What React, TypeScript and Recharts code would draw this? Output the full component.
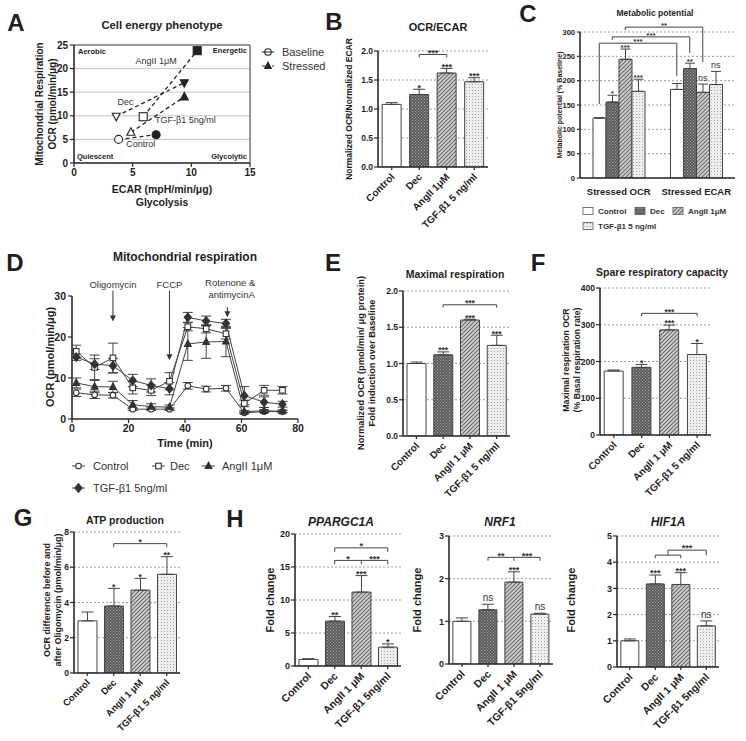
import React from 'react';
import {
  BarChart, Bar, XAxis, YAxis, CartesianGrid, ErrorBar, Cell, ReferenceLine, ReferenceDot,
  ScatterChart, Scatter, LineChart, Line,
} from 'recharts';

const FONT = '"Liberation Sans", Arial, Helvetica, sans-serif';
const INK = '#1e1e1e';
const AXIS = '#2a2a2a';
const GRID = '#9c9c9c';
const BAR_STROKE = '#444';
const BAR_FILLS = ['#ffffff', 'url(#pDec)', 'url(#pAng)', 'url(#pTgf)'];

// ---------------- Panel A : cell energy phenotype ----------------
const aNames = ['Control', 'Dec', 'AngII 1μM', 'TGF-β1 5ng/ml'];
const aBaseECAR = [3.8, 3.6, 5.9, 4.85];
const aBaseOCR = [5.0, 9.9, 9.8, 6.5];
const aStressECAR = [7.0, 9.4, 10.5, 9.4];
const aStressOCR = [6.0, 17.0, 23.8, 14.0];
const aNameECAR = [5.7, 4.4, 7.0, 9.5];
const aNameOCR = [4.0, 12.9, 21.6, 9.1];
const aMarkers = ['circle', 'triangleDown', 'square', 'triangle'];
const aXTicks = [0, 5, 10, 15];
const aYTicks = [0, 5, 10, 15, 20, 25];

// ---------------- Panel B : OCR/ECAR ----------------
const bLabels = ['Control', 'Dec', 'AngII 1μM', 'TGF-β1 5 ng/ml'];
const bValues = [1.08, 1.25, 1.62, 1.47];
const bErr = [0.03, 0.09, 0.08, 0.07];
const bSig = ['', '*', '***', '***'];
const bTicks = [0, 0.5, 1, 1.5, 2];
const bBrackets = [{ x1: 1, x2: 2, y: 1.94, drop: 0.05, labels: [{ text: '***' }] }];

// ---------------- Panel C : metabolic potential ----------------
const cGroups = ['Stressed OCR', 'Stressed ECAR'];
const cSeries = ['Control', 'Dec', 'AngII 1μM', 'TGF-β1 5 ng/ml'];
const cOCR = [123, 156, 244, 178];
const cOCRErr = [1, 14, 21, 25];
const cOCRSig = ['', '*', '***', '***'];
const cECAR = [182, 225, 176, 192];
const cECARErr = [12, 11, 17, 27];
const cECARSig = ['', '**', 'ns', 'ns'];
const cTicks = [0, 50, 100, 150, 200, 250, 300];
const cBrackets = [
  { series: 0, y: 277, leftTo: 152, rightTo: 210, text: '***' },
  { series: 1, y: 290, leftTo: 284, rightTo: 257, text: '***' },
  { series: 2, y: 310, leftTo: 304, rightTo: 238, text: '**' },
];

// ---------------- Panel D : mitochondrial respiration ----------------
const dTime = [1.5, 8, 14.5, 21.5, 28, 34.5, 41, 47.5, 54.5, 61, 68, 74.5];
const dControl = [6.4, 5.9, 5.8, 2.4, 2.4, 2.4, 8.1, 7.3, 7.5, 1.5, 1.8, 1.8];
const dControlErr = [0.9, 0.9, 0.7, 0.3, 0.3, 0.3, 0.8, 0.7, 0.7, 0.2, 0.2, 0.2];
const dDec = [16.5, 12.6, 14.9, 7.6, 7.0, 9.2, 22.5, 22.0, 20.8, 3.8, 7.0, 7.0];
const dDecErr = [1.5, 3.0, 3.6, 1.5, 1.3, 2.1, 1.0, 1.0, 1.3, 0.8, 1.2, 0.9];
const dAng = [8.8, 7.9, 7.8, 3.5, 3.0, 2.9, 18.3, 18.8, 18.9, 1.8, 2.0, 1.9];
const dAngErr = [1.2, 1.5, 1.4, 1.0, 0.7, 0.5, 4.0, 4.0, 3.7, 0.3, 0.3, 0.3];
const dTgf = [15.1, 13.4, 13.0, 9.4, 8.2, 7.4, 24.8, 23.9, 23.3, 5.7, 4.1, 3.6];
const dTgfErr = [0.8, 1.3, 1.8, 1.5, 1.6, 1.5, 1.2, 1.2, 1.0, 2.2, 1.3, 0.7];
const dXTicks = [0, 20, 40, 60, 80];
const dYTicks = [0, 10, 20, 30];
const dArrows = [
  { x: 14.5, from: 31.3, to: 23.8 },
  { x: 34.5, from: 31.3, to: 14.3 },
  { x: 55.0, from: 27.3, to: 24.8 },
];
const dNotes = [
  { x: 14.5, y: 32.7, text: 'Oligomycin' },
  { x: 34.5, y: 32.7, text: 'FCCP' },
  { x: 56.0, y: 33.2, text: 'Rotenone &' },
  { x: 56.5, y: 30.3, text: 'antimycinA' },
];

// ---------------- Panel E : maximal respiration ----------------
const eLabels = ['Control', 'Dec', 'AngII 1 μM', 'TGF-β1 5 ng/ml'];
const eValues = [1.0, 1.12, 1.6, 1.25];
const eErr = [0.02, 0.04, 0.01, 0.14];
const eSig = ['', '***', '***', '***'];
const eTicks = [0, 0.5, 1, 1.5, 2];
const eBrackets = [{ x1: 1, x2: 3, y: 1.81, drop: 0.04, labels: [{ text: '***' }] }];

// ---------------- Panel F : spare respiratory capacity ----------------
const fLabels = ['Control', 'Dec', 'AngII 1 μM', 'TGF-β1 5 ng/ml'];
const fValues = [174, 184, 286, 219];
const fErr = [3, 8, 13, 30];
const fSig = ['', '*', '***', '*'];
const fTicks = [0, 100, 200, 300, 400];
const fBrackets = [{ x1: 1, x2: 3, y: 331, drop: 8, labels: [{ text: '***' }] }];

// ---------------- Panel G : ATP production ----------------
const gLabels = ['Control', 'Dec', 'AngII 1 μM', 'TGF-β1 5 ng/ml'];
const gValues = [2.96, 3.8, 4.7, 5.6];
const gErr = [0.5, 1.0, 0.67, 1.0];
const gSig = ['', '*', '*', '**'];
const gTicks = [0, 2, 4, 6, 8];
const gBrackets = [{ x1: 1, x2: 3, y: 7.34, drop: 0.2, labels: [{ text: '*' }] }];

// ---------------- Panel H : gene expression ----------------
const hLabels = ['Control', 'Dec', 'AngII 1 μM', 'TGF-β1 5ng/ml'];
const h1Values = [1.0, 6.8, 11.2, 2.85];
const h1Err = [0.1, 0.7, 2.5, 0.5];
const h1Sig = ['', '**', '***', '*'];
const h1Ticks = [0, 5, 10, 15, 20];
const h1Brackets = [
  { x1: 1, x2: 3, y: 17.9, drop: 0.6, labels: [{ text: '*' }] },
  { x1: 1, x2: 3, y: 16, drop: 0.6, ticks: [2], labels: [{ text: '*', x: 1.5 }, { text: '***', x: 2.5 }] },
];
const h2Values = [1.0, 1.27, 1.92, 1.17];
const h2Err = [0.08, 0.13, 0.24, 0.02];
const h2Sig = ['', 'ns', '***', 'ns'];
const h2Ticks = [0, 1, 2, 3];
const h2Brackets = [
  { x1: 1, x2: 3, y: 2.5, drop: 0.08, ticks: [2], labels: [{ text: '**', x: 1.5 }, { text: '***', x: 2.5 }] },
];
const h3Values = [1.0, 3.17, 3.15, 1.57];
const h3Err = [0.07, 0.34, 0.45, 0.19];
const h3Sig = ['', '***', '***', 'ns'];
const h3Ticks = [0, 1, 2, 3, 4, 5];
const h3Brackets = [
  { x1: 1, x2: 2, y: 4.27, drop: 0.12 },
  { x1: 1.5, x2: 3, y: 4.46, drop: 0.19, labels: [{ text: '***', x: 2.25 }] },
];

// =====================================================================

const Patterns = () => (
  <svg width={0} height={0} style={{ position: 'absolute', left: 0, top: 0 }}>
    <defs>
      <pattern id="pDec" width={3} height={3} patternUnits="userSpaceOnUse">
        <rect width={3} height={3} fill="#5a5a5a" />
        <rect x={0} y={0} width={1} height={1} fill="#a8a8a8" />
        <rect x={1.5} y={1.5} width={1} height={1} fill="#a8a8a8" />
      </pattern>
      <pattern id="pAng" width={4} height={4} patternUnits="userSpaceOnUse">
        <rect width={4} height={4} fill="#d2d2d2" />
        <path d="M-1,1 L1,-1 M0,4 L4,0 M3,5 L5,3" stroke="#6a6a6a" strokeWidth={1.2} />
      </pattern>
      <pattern id="pTgf" width={3} height={3} patternUnits="userSpaceOnUse">
        <rect width={3} height={3} fill="#eeeeee" />
        <rect x={0} y={0} width={1} height={1} fill="#a6a6a6" />
      </pattern>
    </defs>
  </svg>
);

type TProps = {
  x: number; y: number; size: number; bold?: boolean; italic?: boolean; rot?: number;
  anchor?: 'start' | 'middle' | 'end'; children: React.ReactNode; color?: string;
};
const T = ({ x, y, size, bold = true, italic = false, rot = 0, anchor = 'middle', children, color = INK }: TProps) => {
  const tx = anchor === 'middle' ? '-50%' : anchor === 'end' ? '-100%' : '0';
  return (
    <div
      style={{
        position: 'absolute', left: x, top: y, transform: `translate(${tx},-50%) rotate(${rot}deg)`,
        fontSize: size, fontWeight: bold ? 700 : 400, fontStyle: italic ? 'italic' : 'normal',
        whiteSpace: 'nowrap', lineHeight: 1, color, fontFamily: FONT,
      }}
    >
      {children}
    </div>
  );
};

const Marker = ({ kind, cx, cy, filled, s = 4, stroke = '#222' }: any) => {
  const fill = filled ? stroke : '#fff';
  const common = { fill, stroke, strokeWidth: 1.1 };
  if (kind === 'circle') return <circle cx={cx} cy={cy} r={s} {...common} />;
  if (kind === 'square') return <rect x={cx - s} y={cy - s} width={2 * s} height={2 * s} {...common} />;
  if (kind === 'triangle')
    return <polygon points={`${cx},${cy - s * 1.15} ${cx + s},${cy + s * 0.75} ${cx - s},${cy + s * 0.75}`} {...common} />;
  if (kind === 'triangleDown')
    return <polygon points={`${cx},${cy + s * 1.15} ${cx + s},${cy - s * 0.75} ${cx - s},${cy - s * 0.75}`} {...common} />;
  return <polygon points={`${cx},${cy - s * 1.2} ${cx + s},${cy} ${cx},${cy + s * 1.2} ${cx - s},${cy}`} {...common} />;
};

const SigText = ({ cx, cy, text, size }: any) => {
  const ns = text === 'ns';
  return (
    <text
      x={cx}
      y={ns ? cy - 3 : cy + size * 0.15}
      textAnchor="middle"
      fontSize={ns ? size + 1 : size}
      fontWeight={ns ? 400 : 700}
      fill="#333"
      fontFamily={FONT}
    >
      {text}
    </text>
  );
};

const AngledTick = ({ x, y, payload, size }: any) => {
  const ax = x + size * 0.35;
  const ay = y + size * 0.55;
  return (
    <text
      x={ax}
      y={ay}
      transform={`rotate(-45 ${ax} ${ay})`}
      textAnchor="end"
      fontSize={size}
      fontWeight={700}
      fontFamily={FONT}
      fill={INK}
    >
      {payload.value}
    </text>
  );
};

type Frame = { x: number; y: number; w: number; h: number; padL: number; padT: number; padR: number; padB: number };
const frameStyle = (f: Frame): React.CSSProperties => ({ position: 'absolute', left: f.x - f.padL, top: f.y - f.padT });
const frameSize = (f: Frame) => ({
  width: f.padL + f.w + f.padR,
  height: f.padT + f.h + f.padB,
  margin: { top: f.padT, right: f.padR, left: 0, bottom: 0 },
});

const axisLine = { stroke: AXIS, strokeWidth: 1.6 };
const tickLine = { stroke: AXIS, strokeWidth: 1.2 };
const tickStyle = (size: number) => ({ fontSize: size, fontWeight: 700, fill: INK, fontFamily: FONT });

type Bracket = {
  x1: number; x2: number; y: number; drop: number; ticks?: number[];
  labels?: { text: string; x?: number }[]; leftTo?: number; rightTo?: number;
};

function bracketEls(b: Bracket, key: string, size: number, xOff: number) {
  const x1 = b.x1 + xOff;
  const x2 = b.x2 + xOff;
  const lt = b.leftTo ?? b.y - b.drop;
  const rt = b.rightTo ?? b.y - b.drop;
  const segs: number[][] = [
    [x1, lt, x1, b.y],
    [x1, b.y, x2, b.y],
    [x2, b.y, x2, rt],
    ...(b.ticks || []).map((t) => [t + xOff, b.y, t + xOff, b.y - b.drop]),
  ];
  const els: any[] = segs.map((s, i) => (
    <ReferenceLine
      key={`${key}l${i}`}
      xAxisId="n"
      segment={[{ x: s[0], y: s[1] }, { x: s[2], y: s[3] }]}
      stroke="#444"
      strokeWidth={1}
      ifOverflow="visible"
    />
  ));
  (b.labels || []).forEach((l, i) => {
    const lx = (l.x ?? (b.x1 + b.x2) / 2) + xOff;
    els.push(
      <ReferenceDot
        key={`${key}t${i}`}
        xAxisId="n"
        x={lx}
        y={b.y}
        r={0}
        ifOverflow="visible"
        shape={(p: any) => <SigText cx={p.cx} cy={p.cy} text={l.text} size={size} />}
      />,
    );
  });
  return els;
}

type BarPanelProps = {
  frame: Frame; labels: string[]; values: number[]; errs: number[]; sig: string[]; brackets: Bracket[];
  domain: [number, number]; ticks: number[]; fmt?: (v: number) => string;
  tickSize: number; catSize: number; sigSize: number; idp: string;
};

function BarPanel({ frame, labels, values, errs, sig, brackets, domain, ticks, fmt, tickSize, catSize, sigSize, idp }: BarPanelProps) {
  const data = labels.map((l, i) => ({ name: l, value: values[i], err: [0, errs[i]], nx: i + 0.5 }));
  const n = labels.length;
  return (
    <div style={frameStyle(frame)}>
      <BarChart {...frameSize(frame)} data={data} barCategoryGap="15%">
        <CartesianGrid vertical={false} stroke={GRID} strokeDasharray="2 2" />
        <XAxis
          dataKey="name"
          height={frame.padB}
          interval={0}
          tick={(p: any) => <AngledTick {...p} size={catSize} />}
          axisLine={axisLine}
          tickLine={tickLine}
          tickSize={3}
        />
        <XAxis xAxisId="n" dataKey="nx" type="number" domain={[0, n]} hide allowDataOverflow />
        <YAxis
          width={frame.padL}
          domain={domain}
          ticks={ticks}
          interval={0}
          tickFormatter={fmt}
          tick={tickStyle(tickSize)}
          axisLine={axisLine}
          tickLine={tickLine}
          tickSize={4}
          tickMargin={1}
          allowDataOverflow
        />
        <Bar dataKey="value" isAnimationActive={false} stroke={BAR_STROKE} strokeWidth={1}>
          {data.map((d, i) => (
            <Cell key={`${idp}c${i}`} fill={BAR_FILLS[i]} />
          ))}
          <ErrorBar dataKey="err" width={6} stroke="#444" strokeWidth={1} direction="y" />
        </Bar>
        {sig.map((s, i) =>
          s ? (
            <ReferenceDot
              key={`${idp}s${i}`}
              xAxisId="n"
              x={i + 0.5}
              y={values[i] + errs[i]}
              r={0}
              ifOverflow="visible"
              shape={(p: any) => <SigText cx={p.cx} cy={p.cy} text={s} size={sigSize} />}
            />
          ) : null,
        )}
        {brackets.flatMap((b, bi) => bracketEls(b, `${idp}b${bi}`, sigSize, 0.5))}
      </BarChart>
    </div>
  );
}

// ---------------- Panel A ----------------
function PanelA() {
  const frame: Frame = { x: 74, y: 45, w: 176, h: 118, padL: 30, padT: 10, padR: 10, padB: 22 };
  return (
    <div style={frameStyle(frame)}>
      <ScatterChart {...frameSize(frame)}>
        <CartesianGrid vertical={false} stroke="#c4c4c4" />
        <XAxis
          type="number"
          dataKey="x"
          domain={[0, 15]}
          ticks={aXTicks}
          interval={0}
          height={frame.padB}
          tick={tickStyle(10)}
          axisLine={axisLine}
          tickLine={tickLine}
          tickSize={4}
        />
        <YAxis
          type="number"
          dataKey="y"
          domain={[0, 25]}
          ticks={aYTicks}
          interval={0}
          width={frame.padL}
          tick={tickStyle(10)}
          axisLine={axisLine}
          tickLine={tickLine}
          tickSize={4}
        />
        <ReferenceLine y={25} stroke="#555" strokeWidth={1.2} ifOverflow="visible" />
        <ReferenceLine x={15} stroke="#555" strokeWidth={1.2} ifOverflow="visible" />
        {aNames.map((nm, i) => (
          <Scatter
            key={nm}
            data={[
              { x: aBaseECAR[i], y: aBaseOCR[i], filled: false },
              { x: aStressECAR[i], y: aStressOCR[i], filled: true },
            ]}
            line={{ stroke: '#222', strokeWidth: 1.3, strokeDasharray: '4 3' }}
            lineType="joint"
            isAnimationActive={false}
            shape={(p: any) => (
              <Marker kind={aMarkers[i]} cx={p.cx} cy={p.cy} filled={p.payload && p.payload.filled} s={4} />
            )}
          />
        ))}
        <Scatter
          data={aNames.map((nm, i) => ({ x: aNameECAR[i], y: aNameOCR[i], text: nm }))}
          isAnimationActive={false}
          shape={(p: any) => (
            <text x={p.cx} y={p.cy} textAnchor="middle" dominantBaseline="central" fontSize={9} fill="#333" fontFamily={FONT}>
              {p.payload && p.payload.text}
            </text>
          )}
        />
      </ScatterChart>
    </div>
  );
}

function LegendA() {
  return (
    <svg style={{ position: 'absolute', left: 255, top: 42 }} width={90} height={34}>
      <line x1={7} y1={10} x2={19} y2={10} stroke="#222" strokeWidth={1.2} strokeDasharray="3 2" />
      <Marker kind="circle" cx={13} cy={10} filled={false} s={3.3} />
      <line x1={10} y1={10} x2={16} y2={10} stroke="#222" strokeWidth={1} />
      <text x={27} y={10} dominantBaseline="central" fontSize={11} fill="#333" fontFamily={FONT}>Baseline</text>
      <line x1={7} y1={24} x2={19} y2={24} stroke="#222" strokeWidth={1.2} strokeDasharray="3 2" />
      <Marker kind="triangle" cx={13} cy={24} filled s={3.3} />
      <text x={27} y={24} dominantBaseline="central" fontSize={11} fill="#333" fontFamily={FONT}>Stressed</text>
    </svg>
  );
}

// ---------------- Panel C ----------------
function PanelC() {
  const frame: Frame = { x: 580, y: 32, w: 155, h: 146, padL: 25, padT: 20, padR: 8, padB: 20 };
  const barSize = 13;
  const bandPx = frame.w / cGroups.length;
  const barX = (g: number, s: number) => g + 0.5 + ((s - 1.5) * barSize) / bandPx;
  const vals = [cOCR, cECAR];
  const errs = [cOCRErr, cECARErr];
  const sigs = [cOCRSig, cECARSig];
  const data = cGroups.map((g, gi) => {
    const row: any = { name: g, nx: gi + 0.5 };
    cSeries.forEach((_, si) => {
      row[`v${si}`] = vals[gi][si];
      row[`e${si}`] = [0, errs[gi][si]];
    });
    return row;
  });
  return (
    <div style={frameStyle(frame)}>
      <BarChart {...frameSize(frame)} data={data} barSize={barSize} barGap={0}>
        <CartesianGrid vertical={false} stroke={GRID} strokeDasharray="2 2" />
        <XAxis dataKey="name" height={frame.padB} tick={tickStyle(9.5)} axisLine={axisLine} tickLine={false} tickMargin={4} />
        <XAxis xAxisId="n" dataKey="nx" type="number" domain={[0, 2]} hide allowDataOverflow />
        <YAxis
          width={frame.padL}
          domain={[0, 300]}
          ticks={cTicks}
          interval={0}
          tick={tickStyle(7.5)}
          axisLine={axisLine}
          tickLine={tickLine}
          tickSize={3}
          allowDataOverflow
        />
        {cSeries.map((s, si) => (
          <Bar key={s} dataKey={`v${si}`} fill={BAR_FILLS[si]} stroke={BAR_STROKE} strokeWidth={1} isAnimationActive={false}>
            <ErrorBar dataKey={`e${si}`} width={5} stroke="#444" strokeWidth={1} direction="y" />
          </Bar>
        ))}
        {cGroups.flatMap((g, gi) =>
          cSeries.map((s, si) =>
            sigs[gi][si] ? (
              <ReferenceDot
                key={`cs${gi}${si}`}
                xAxisId="n"
                x={barX(gi, si)}
                y={vals[gi][si] + errs[gi][si]}
                r={0}
                ifOverflow="visible"
                shape={(p: any) => <SigText cx={p.cx} cy={p.cy} text={sigs[gi][si]} size={8} />}
              />
            ) : null,
          ),
        )}
        {cBrackets.flatMap((b, bi) =>
          bracketEls(
            {
              x1: barX(0, b.series), x2: barX(1, b.series), y: b.y, drop: 0,
              leftTo: b.leftTo, rightTo: b.rightTo, labels: [{ text: b.text }],
            },
            `cb${bi}`,
            8,
            0,
          ),
        )}
      </BarChart>
    </div>
  );
}

function LegendC() {
  const box = (x: number, y: number, f: string) => (
    <rect x={x} y={y - 3.5} width={10} height={7} fill={f} stroke="#555" strokeWidth={0.8} />
  );
  const txt = (x: number, y: number, t: string) => (
    <text x={x} y={y} dominantBaseline="central" fontSize={8} fontWeight={700} fill="#333" fontFamily={FONT}>{t}</text>
  );
  return (
    <svg style={{ position: 'absolute', left: 575, top: 202 }} width={170} height={34}>
      {box(8, 9, BAR_FILLS[0])}
      {txt(23, 9, cSeries[0])}
      {box(60, 9, BAR_FILLS[1])}
      {txt(75, 9, cSeries[1])}
      {box(98, 9, BAR_FILLS[2])}
      {txt(113, 9, cSeries[2])}
      {box(8, 24, BAR_FILLS[3])}
      {txt(23, 24, cSeries[3])}
    </svg>
  );
}

// ---------------- Panel D ----------------
const dSeries = [
  { key: 'control', err: 'controlErr', kind: 'circle', filled: false, s: 2.8, name: 'Control' },
  { key: 'dec', err: 'decErr', kind: 'square', filled: false, s: 2.8, name: 'Dec' },
  { key: 'ang', err: 'angErr', kind: 'triangle', filled: true, s: 3.4, name: 'AngII 1μM' },
  { key: 'tgf', err: 'tgfErr', kind: 'diamond', filled: true, s: 3.6, name: 'TGF-β1 5ng/ml' },
];

function PanelD() {
  const frame: Frame = { x: 72, y: 296, w: 226, h: 123, padL: 30, padT: 45, padR: 12, padB: 20 };
  const data = dTime.map((t, i) => ({
    t,
    control: dControl[i], controlErr: dControlErr[i],
    dec: dDec[i], decErr: dDecErr[i],
    ang: dAng[i], angErr: dAngErr[i],
    tgf: dTgf[i], tgfErr: dTgfErr[i],
  }));
  return (
    <div style={frameStyle(frame)}>
      <LineChart {...frameSize(frame)} data={data}>
        <XAxis
          type="number"
          dataKey="t"
          domain={[0, 80]}
          ticks={dXTicks}
          interval={0}
          height={frame.padB}
          tick={tickStyle(10.5)}
          axisLine={axisLine}
          tickLine={tickLine}
          tickSize={4}
        />
        <YAxis
          domain={[0, 30]}
          ticks={dYTicks}
          interval={0}
          width={frame.padL}
          tick={tickStyle(10.5)}
          axisLine={axisLine}
          tickLine={tickLine}
          tickSize={4}
          allowDataOverflow
        />
        {dSeries.map((s) => (
          <Line
            key={s.key}
            dataKey={s.key}
            stroke="#444"
            strokeWidth={1}
            isAnimationActive={false}
            activeDot={false}
            dot={(p: any) => (
              <Marker key={`${s.key}${p.index}`} kind={s.kind} cx={p.cx} cy={p.cy} filled={s.filled} s={s.s} stroke="#333" />
            )}
          >
            <ErrorBar dataKey={s.err} width={5} stroke="#444" strokeWidth={1} direction="y" />
          </Line>
        ))}
        {dArrows.map((a, i) => (
          <ReferenceLine
            key={`arr${i}`}
            segment={[{ x: a.x, y: a.from }, { x: a.x, y: a.to }]}
            ifOverflow="visible"
            stroke="#333"
            shape={(p: any) => (
              <g>
                <line x1={p.x1} y1={p.y1} x2={p.x2} y2={p.y2 - 4} stroke="#333" strokeWidth={1} />
                <polygon points={`${p.x2 - 3},${p.y2 - 6} ${p.x2 + 3},${p.y2 - 6} ${p.x2},${p.y2}`} fill="#333" />
              </g>
            )}
          />
        ))}
        {dNotes.map((nt, i) => (
          <ReferenceDot
            key={`note${i}`}
            x={nt.x}
            y={nt.y}
            r={0}
            ifOverflow="visible"
            shape={(p: any) => (
              <text x={p.cx} y={p.cy} textAnchor="middle" dominantBaseline="central" fontSize={9.5} fill="#333" fontFamily={FONT}>
                {nt.text}
              </text>
            )}
          />
        ))}
      </LineChart>
    </div>
  );
}

function LegendD() {
  const pos = [
    { x: 72, y: 16, tx: 93 },
    { x: 152, y: 16, tx: 170 },
    { x: 202, y: 16, tx: 222 },
    { x: 72, y: 38, tx: 93 },
  ];
  return (
    <svg style={{ position: 'absolute', left: 0, top: 450 }} width={300} height={50}>
      {dSeries.map((s, i) => (
        <g key={s.key}>
          <line x1={pos[i].x} y1={pos[i].y} x2={pos[i].x + 13} y2={pos[i].y} stroke="#444" strokeWidth={1} />
          <Marker kind={s.kind} cx={pos[i].x + 6.5} cy={pos[i].y} filled={s.filled} s={s.s} stroke="#333" />
          <text x={pos[i].tx} y={pos[i].y} dominantBaseline="central" fontSize={11} fill="#333" fontFamily={FONT}>
            {s.name}
          </text>
        </g>
      ))}
    </svg>
  );
}

const f1 = (v: number) => v.toFixed(1);

export default function App() {
  return (
    <div
      style={{
        position: 'absolute', left: 0, top: 0, width: 746, height: 741, background: '#fff',
        fontFamily: FONT, color: INK, overflow: 'hidden',
      }}
    >
      <style>{'.recharts-surface{overflow:visible}'}</style>
      <Patterns />

      {/* panel letters */}
      <T x={16} y={23} size={24}>A</T>
      <T x={334} y={22} size={24}>B</T>
      <T x={528} y={14} size={24}>C</T>
      <T x={15} y={263} size={24}>D</T>
      <T x={333} y={263} size={24}>E</T>
      <T x={538} y={263} size={24}>F</T>
      <T x={23} y={518} size={24}>G</T>
      <T x={235} y={519} size={24}>H</T>

      {/* ---- A ---- */}
      <T x={162} y={26} size={11.3}>Cell energy phenotype</T>
      <PanelA />
      <LegendA />
      <T x={40} y={104} size={10} rot={-90}>Mitochondrial Respiration</T>
      <T x={53} y={104} size={10} rot={-90}>OCR (pmol/min/μg)</T>
      <T x={162} y={189} size={10.5}>ECAR (mpH/min/μg)</T>
      <T x={162} y={202} size={10.5}>Glycolysis</T>
      <T x={78} y={52} size={7.5} anchor="start">Aerobic</T>
      <T x={247} y={51} size={7.5} anchor="end">Energetic</T>
      <T x={77} y={157} size={7.5} anchor="start">Quiescent</T>
      <T x={247} y={157} size={7.5} anchor="end">Glycolytic</T>

      {/* ---- B ---- */}
      <T x={438} y={27} size={11}>OCR/ECAR</T>
      <T x={349} y={109} size={8.5} rot={-90}>Normalized OCR/Normalized ECAR</T>
      <BarPanel
        idp="B"
        frame={{ x: 378, y: 51, w: 110, h: 116, padL: 26, padT: 12, padR: 8, padB: 70 }}
        labels={bLabels} values={bValues} errs={bErr} sig={bSig} brackets={bBrackets}
        domain={[0, 2]} ticks={bTicks} fmt={f1} tickSize={8.5} catSize={10} sigSize={9}
      />

      {/* ---- C ---- */}
      <T x={655} y={13} size={8.5}>Metabolic potential</T>
      <T x={559} y={105} size={7} rot={-90}>Metabolic potential (% Baseline)</T>
      <PanelC />
      <LegendC />

      {/* ---- D ---- */}
      <T x={185} y={257} size={12}>Mitochondrial respiration</T>
      <PanelD />
      <T x={50} y={357} size={11} rot={-90}>OCR (pmol/min/μg)</T>
      <T x={185} y={443} size={11}>Time (min)</T>
      <LegendD />

      {/* ---- E ---- */}
      <T x={455} y={274} size={10.5}>Maximal respiration</T>
      <T x={362} y={363} size={9.3} rot={-90}>Normalized OCR (pmol/min/ μg protein)</T>
      <T x={373} y={363} size={9.3} rot={-90}>Fold induction over Baseline</T>
      <BarPanel
        idp="E"
        frame={{ x: 403, y: 291, w: 107, h: 145, padL: 26, padT: 12, padR: 8, padB: 70 }}
        labels={eLabels} values={eValues} errs={eErr} sig={eSig} brackets={eBrackets}
        domain={[0, 2]} ticks={eTicks} fmt={f1} tickSize={8.5} catSize={10} sigSize={8.5}
      />

      {/* ---- F ---- */}
      <T x={662} y={272} size={10.5}>Spare respiratory capacity</T>
      <T x={566} y={360} size={8.7} rot={-90}>Maximal respiration OCR</T>
      <T x={577} y={360} size={8.7} rot={-90}>(% Basal respiration rate)</T>
      <BarPanel
        idp="F"
        frame={{ x: 600, y: 288, w: 111, h: 147, padL: 24, padT: 12, padR: 8, padB: 70 }}
        labels={fLabels} values={fValues} errs={fErr} sig={fSig} brackets={fBrackets}
        domain={[0, 400]} ticks={fTicks} tickSize={8.5} catSize={10} sigSize={8.5}
      />

      {/* ---- G ---- */}
      <T x={125} y={520} size={10.5}>ATP production</T>
      <T x={47} y={600} size={9} rot={-90}>OCR difference before and</T>
      <T x={58} y={600} size={9} rot={-90}>after Oligomycin (pmol/min/μg)</T>
      <BarPanel
        idp="G"
        frame={{ x: 74, y: 532, w: 106, h: 141, padL: 12, padT: 12, padR: 8, padB: 68 }}
        labels={gLabels} values={gValues} errs={gErr} sig={gSig} brackets={gBrackets}
        domain={[0, 8]} ticks={gTicks} tickSize={8.5} catSize={9.5} sigSize={8.5}
      />

      {/* ---- H ---- */}
      <T x={341} y={522} size={12} italic>PPARGC1A</T>
      <T x={270} y={600} size={11} rot={-90}>Fold change</T>
      <BarPanel
        idp="H1"
        frame={{ x: 295, y: 534, w: 106, h: 132, padL: 22, padT: 12, padR: 8, padB: 75 }}
        labels={hLabels} values={h1Values} errs={h1Err} sig={h1Sig} brackets={h1Brackets}
        domain={[0, 20]} ticks={h1Ticks} tickSize={9} catSize={10.5} sigSize={9}
      />
      <T x={500} y={522} size={12} italic>NRF1</T>
      <T x={417} y={600} size={11} rot={-90}>Fold change</T>
      <BarPanel
        idp="H2"
        frame={{ x: 449, y: 536, w: 104, h: 128, padL: 22, padT: 12, padR: 8, padB: 75 }}
        labels={hLabels} values={h2Values} errs={h2Err} sig={h2Sig} brackets={h2Brackets}
        domain={[0, 3]} ticks={h2Ticks} tickSize={9} catSize={10.5} sigSize={9}
      />
      <T x={668} y={522} size={12} italic>HIF1A</T>
      <T x={571} y={600} size={11} rot={-90}>Fold change</T>
      <BarPanel
        idp="H3"
        frame={{ x: 617, y: 536, w: 102, h: 131, padL: 22, padT: 12, padR: 8, padB: 72 }}
        labels={hLabels} values={h3Values} errs={h3Err} sig={h3Sig} brackets={h3Brackets}
        domain={[0, 5]} ticks={h3Ticks} tickSize={9} catSize={10.5} sigSize={9}
      />
    </div>
  );
}
